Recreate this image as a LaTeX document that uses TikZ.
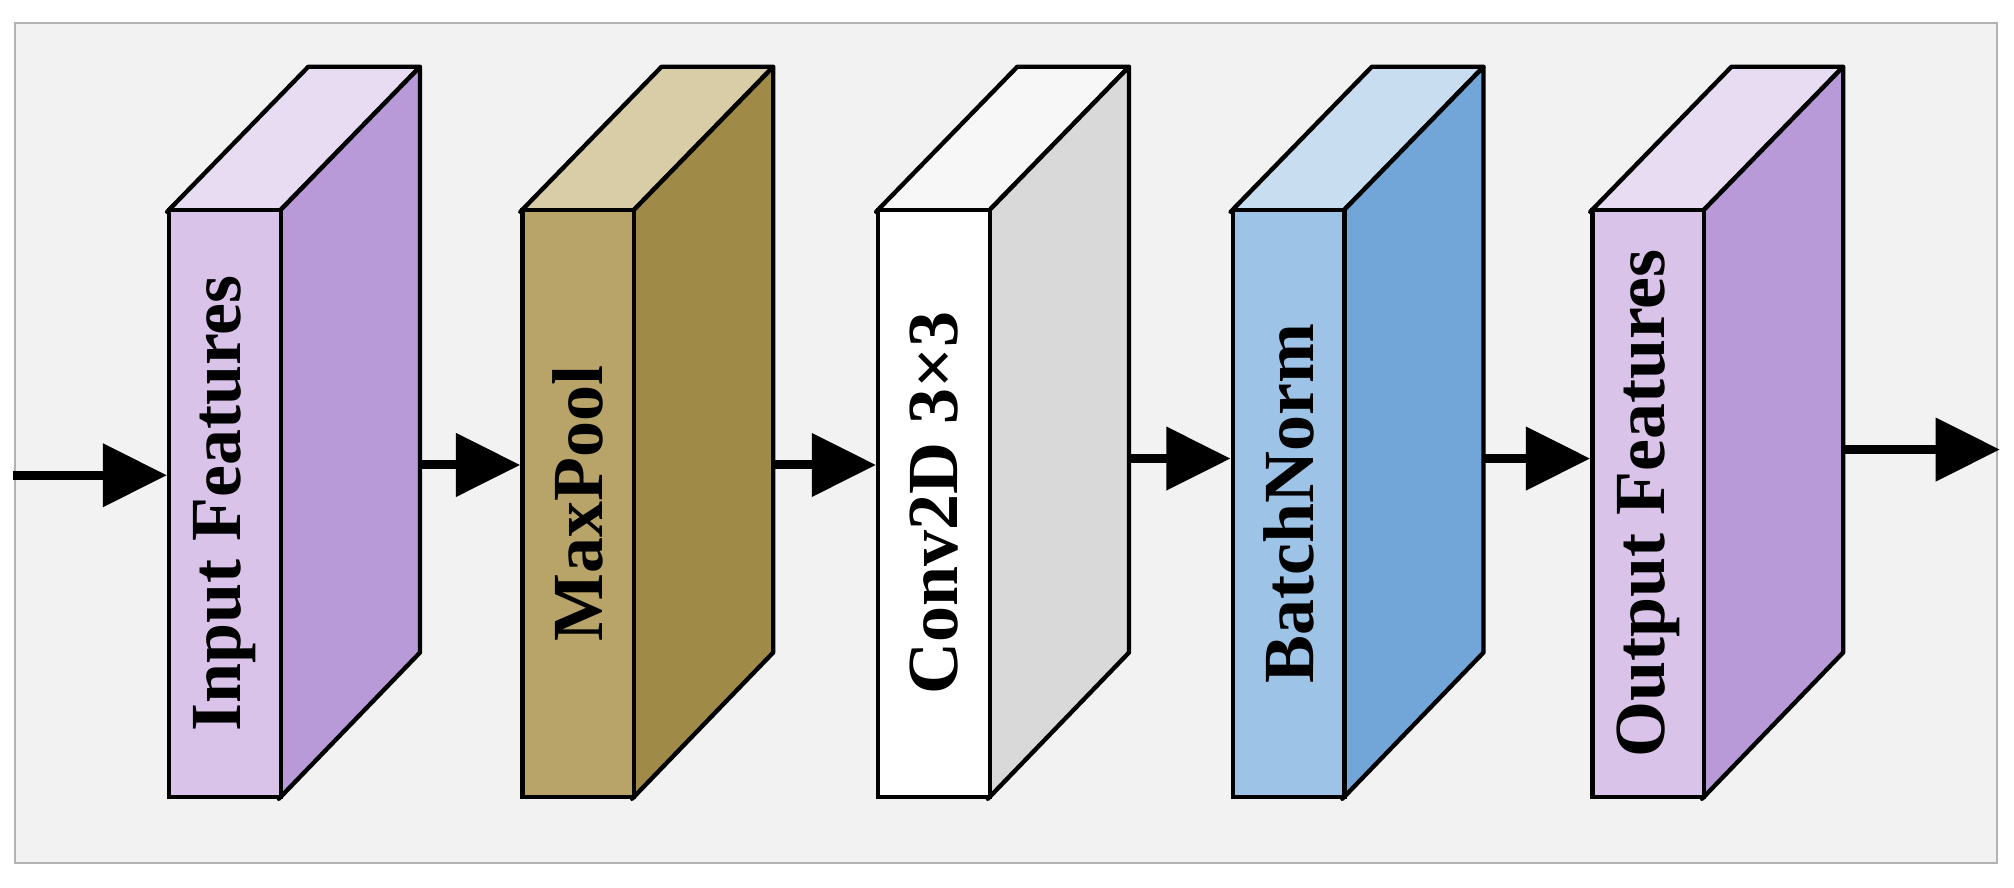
\documentclass[tikz,border=0pt]{standalone}
\usepackage{fontspec}
\setmainfont{Liberation Serif}
\usetikzlibrary{arrows.meta}
\definecolor{bg}{HTML}{F2F2F2}
\definecolor{pF}{HTML}{D9C3E9}\definecolor{pT}{HTML}{E8DCF2}\definecolor{pS}{HTML}{B99AD9}
\definecolor{mF}{HTML}{B8A468}\definecolor{mT}{HTML}{D9CDA8}\definecolor{mS}{HTML}{A08A48}
\definecolor{cF}{HTML}{FFFFFF}\definecolor{cT}{HTML}{F7F7F7}\definecolor{cS}{HTML}{D9D9D9}
\definecolor{bF}{HTML}{9DC3E6}\definecolor{bT}{HTML}{C9DDF0}\definecolor{bS}{HTML}{72A6D8}
\newcommand\myblk[6]{%
 \fill[#4,draw=black,line width=1.7pt,line join=round] (#2,526)--(#2+87,526)--(#2+197,639)--(#2+110,639)--cycle;
 \fill[#5,draw=black,line width=1.7pt,line join=round] (#2+87,526)--(#2+197,639)--(#2+197,183)--(#2+87,69)--cycle;
 \node[draw=black,line width=1.7pt,fill=#3,minimum width=87*0.5pt,minimum height=457*0.5pt,anchor=south west,inner sep=0pt] (#1) at (#2,69) {};
 \node[rotate=90,font=\bfseries\fontsize{28}{30}\selectfont] at (#1.center) {#6};
 \coordinate (#1o) at (#2+197,0);
}
\begin{document}
\begin{tikzpicture}[x=0.5pt,y=0.5pt,arr/.style={line width=3.5pt,-{Triangle[length=25pt,width=24pt]}}]
\useasboundingbox (0,0) rectangle (1568,691);
\draw[fill=bg,draw=gray!60,line width=0.8pt] (12,19) rectangle (1555,673);
\myblk{b1}{130}{pF}{pT}{pS}{Input Features}
\myblk{b2}{405}{mF}{mT}{mS}{MaxPool}
\myblk{b3}{682}{cF}{cT}{cS}{Conv2D 3×3}
\myblk{b4}{958}{bF}{bT}{bS}{BatchNorm}
\myblk{b5}{1238}{pF}{pT}{pS}{Output Features}
\coordinate (start) at (10,321);
\coordinate (end) at (1557,341);
\draw[arr] (start) -- (start -| b1.west);
\draw[arr] (b1o |- 0,329) -- (b2.west |- 0,329);
\draw[arr] (b2o |- 0,329) -- (b3.west |- 0,329);
\draw[arr] (b3o |- 0,334) -- (b4.west |- 0,334);
\draw[arr] (b4o |- 0,334) -- (b5.west |- 0,334);
\draw[arr] (b5o |- 0,341) -- (end);
\end{tikzpicture}
\end{document}
